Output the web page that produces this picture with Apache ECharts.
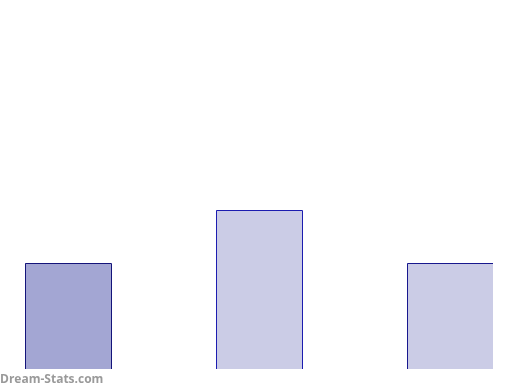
<!DOCTYPE html>
<html>
<head>
<meta charset="utf-8">
<script src="https://cdn.jsdelivr.net/npm/echarts@6/dist/echarts.min.js"></script>
<style>html,body{margin:0;padding:0;background:#fff}#c{width:520px;height:390px}</style>
</head>
<body>
<div id="c"></div>
<script>
var categories = ['A', 'B', 'C'];
var values = [2, 3, 2];
var fillColors = ['#a3a6d3', '#cbcce6', '#cbcce6'];
var borderColors = ['#14147a', '#1c1cb0', '#18188e'];
var watermark = 'Dream-Stats.com';

var chart = echarts.init(document.getElementById('c'));
var data = values.map(function (v, i) { return [i, v]; });

chart.setOption({
  animation: false,
  grid: { left: 25, right: 27, top: 0, bottom: 21 },
  xAxis: { type: 'value', min: -0.225, max: 2.225, show: false },
  yAxis: { type: 'value', min: 0, max: 7, show: false },
  series: [{
    type: 'custom',
    clip: true,
    data: data,
    renderItem: function (params, api) {
      var i = api.value(0);
      var top = api.coord([i, api.value(1)]);
      var base = api.coord([i, 0]);
      var w = api.size([0.45, 0])[0];
      var x0 = Math.round(top[0] - w / 2);
      var x1 = Math.round(top[0] + w / 2);
      var y0 = Math.floor(top[1]);
      var y1 = Math.round(base[1]);
      return {
        type: 'group',
        children: [
          { type: 'rect', shape: { x: x0, y: y0, width: x1 - x0, height: y1 - y0 },
            style: { fill: fillColors[params.dataIndex] } },
          { type: 'polyline', shape: { points: [[x0 + 0.5, y1], [x0 + 0.5, y0 + 0.5], [x1 + 0.5, y0 + 0.5], [x1 + 0.5, y1]] },
            style: { fill: null, stroke: borderColors[params.dataIndex], lineWidth: 1 } }
        ]
      };
    }
  }],
  graphic: [{
    type: 'text', left: 0, top: 374,
    style: { text: watermark, fill: '#9a9a9a', font: 'bold 12px "Open Sans", sans-serif' }
  }]
});
</script>
</body>
</html>
